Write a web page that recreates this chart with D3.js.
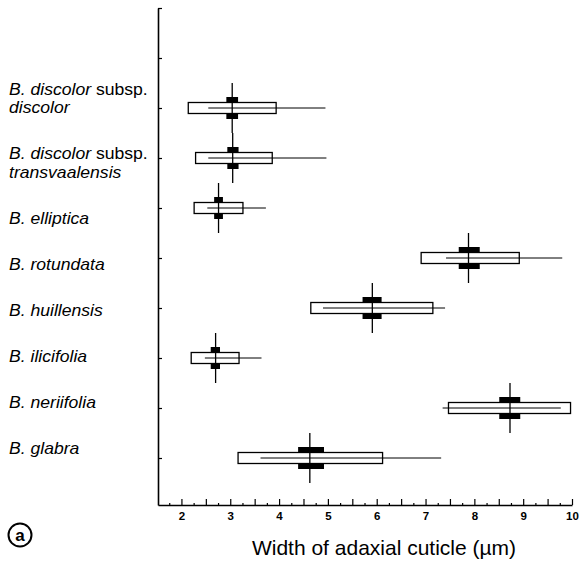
<!DOCTYPE html>
<html><head><meta charset="utf-8">
<script src="https://cdn.jsdelivr.net/npm/d3@7"></script>
<style>
html,body{margin:0;padding:0;background:#fff;}
svg{display:block;}
text{font-family:"Liberation Sans",Arial,Helvetica,sans-serif;fill:#000;}
</style></head>
<body>
<script>
// ---- data ----
const categories = ["B. discolor subsp. discolor","B. discolor subsp. transvaalensis","B. elliptica","B. rotundata","B. huillensis","B. ilicifolia","B. neriifolia","B. glabra"];
// label lines: each segment [text, italic]
const labelLines = [
  [[["B. discolor",true],[" subsp.",false]],[["discolor",true]]],
  [[["B. discolor",true],[" subsp.",false]],[["transvaalensis",true]]],
  [[["B. elliptica",true]]],
  [[["B. rotundata",true]]],
  [[["B. huillensis",true]]],
  [[["B. ilicifolia",true]]],
  [[["B. neriifolia",true]]],
  [[["B. glabra",true]]]
];
const boxLow   = [2.14, 2.29, 2.26, 6.91, 4.65, 2.20, 7.47, 3.16];
const boxHigh  = [3.94, 3.86, 3.26, 8.92, 7.15, 3.18, 9.97, 6.12];
const rangeLow = [2.55, 2.55, 2.53, 7.42, 4.90, 2.48, 7.35, 3.62];
const rangeHigh= [4.95, 4.97, 3.73, 9.80, 7.40, 3.64, 9.77, 7.32];
const means    = [3.04, 3.05, 2.76, 7.88, 5.91, 2.70, 8.73, 4.63];
const ciLow    = [2.92, 2.94, 2.67, 7.68, 5.71, 2.60, 8.51, 4.39];
const ciHigh   = [3.16, 3.17, 2.85, 8.11, 6.10, 2.79, 8.94, 4.92];
const xMajorTicks = [2,2.5,3,3.5,4,4.5,5,5.5,6,6.5,7,7.5,8,8.5,9,9.5,10];
const xMinorTicks = [1.75,2.25,2.75,3.25,3.75,4.25,4.75,5.25,5.75,6.25,6.75,7.25,7.75,8.25,8.75,9.25,9.75];
const xTitle = "Width of adaxial cuticle (µm)";
const panelLetter = "a";

// ---- layout ----
const W = 579, H = 567;
const svg = d3.select("body").append("svg").attr("width", W).attr("height", H);

const x = d3.scaleLinear().domain([1.52, 10]).range([158, 572]);
const y = d3.scaleLinear().domain([-2, 7.94]).range([8, 505]);
const rowIdx = categories.map((d,i)=>i);

// y axis
const yAxis = d3.axisLeft(y).tickValues(d3.range(-2, 8)).tickSize(-4).tickSizeOuter(0).tickFormat("");
const gy = svg.append("g").attr("transform", `translate(${x.range()[0]},0)`).call(yAxis);
gy.select(".domain").attr("stroke-width", 1.6);
gy.selectAll(".tick line").attr("stroke-width", 1.2);

// x axis
const gx = svg.append("g").attr("transform", `translate(0,${y.range()[1]})`)
  .call(d3.axisBottom(x).tickValues(xMajorTicks).tickSize(-6).tickSizeOuter(0).tickPadding(6.5)
    .tickFormat(d => Number.isInteger(d) ? d : ""));
gx.select(".domain").attr("stroke-width", 1.6);
gx.selectAll(".tick line").attr("stroke-width", 1.2);
gx.selectAll(".tick text").attr("font-size", 11.5).attr("font-weight", "bold")
  .style("font-family", '"Liberation Sans",Arial,sans-serif');
const gx2 = svg.append("g").attr("transform", `translate(0,${y.range()[1]})`)
  .call(d3.axisBottom(x).tickValues(xMinorTicks).tickSize(-2).tickSizeOuter(0).tickFormat(""));
gx2.select(".domain").remove();
gx2.selectAll(".tick line").attr("stroke-width", 1.2);

// glyphs
const g = svg.append("g");
const boxHalf = 5.5, ciHalf = 11, vHalf = 25;
const glyph = g.selectAll("g.glyph").data(rowIdx).join("g").attr("class","glyph");
glyph.append("rect")
  .attr("x", i => x(ciLow[i])).attr("width", i => x(ciHigh[i]) - x(ciLow[i]))
  .attr("y", i => y(i) - ciHalf).attr("height", 2*ciHalf).attr("fill", "#000");
glyph.append("rect")
  .attr("x", i => x(boxLow[i])).attr("width", i => x(boxHigh[i]) - x(boxLow[i]))
  .attr("y", i => y(i) - boxHalf).attr("height", 2*boxHalf)
  .attr("fill", "#fff").attr("stroke", "#000").attr("stroke-width", 1.3);
glyph.append("line")
  .attr("x1", i => x(rangeLow[i])).attr("x2", i => x(rangeHigh[i]))
  .attr("y1", i => y(i)).attr("y2", i => y(i))
  .attr("stroke", "#000").attr("stroke-width", 1);
glyph.append("line")
  .attr("x1", i => x(means[i])).attr("x2", i => x(means[i]))
  .attr("y1", i => y(i) - vHalf).attr("y2", i => y(i) + vHalf)
  .attr("stroke", "#000").attr("stroke-width", 1.3);

// category labels (text flow)
const lab = svg.append("g").attr("transform", "translate(9,0) scale(1.1,1)");
let base = 95; const lh = 18.5, gap = 46;
labelLines.forEach((lines, i) => {
  if (i > 0) base += gap;
  lines.forEach((segs, j) => {
    if (j > 0) base += lh;
    const t = lab.append("text").attr("x", 0).attr("y", base).attr("font-size", 16);
    segs.forEach(s => t.append("tspan").text(s[0]).attr("font-style", s[1] ? "italic" : "normal"));
  });
});

// x title
svg.append("text").attr("x", 384).attr("y", 555).attr("text-anchor", "middle")
  .attr("font-size", 21).text(xTitle);

// panel letter
svg.append("circle").attr("cx", 20).attr("cy", 535).attr("r", 11.5)
  .attr("fill", "none").attr("stroke", "#000").attr("stroke-width", 2);
svg.append("text").attr("x", 20).attr("y", 541).attr("text-anchor", "middle")
  .attr("font-size", 17).attr("font-weight", "bold").text(panelLetter);
</script>
</body></html>
